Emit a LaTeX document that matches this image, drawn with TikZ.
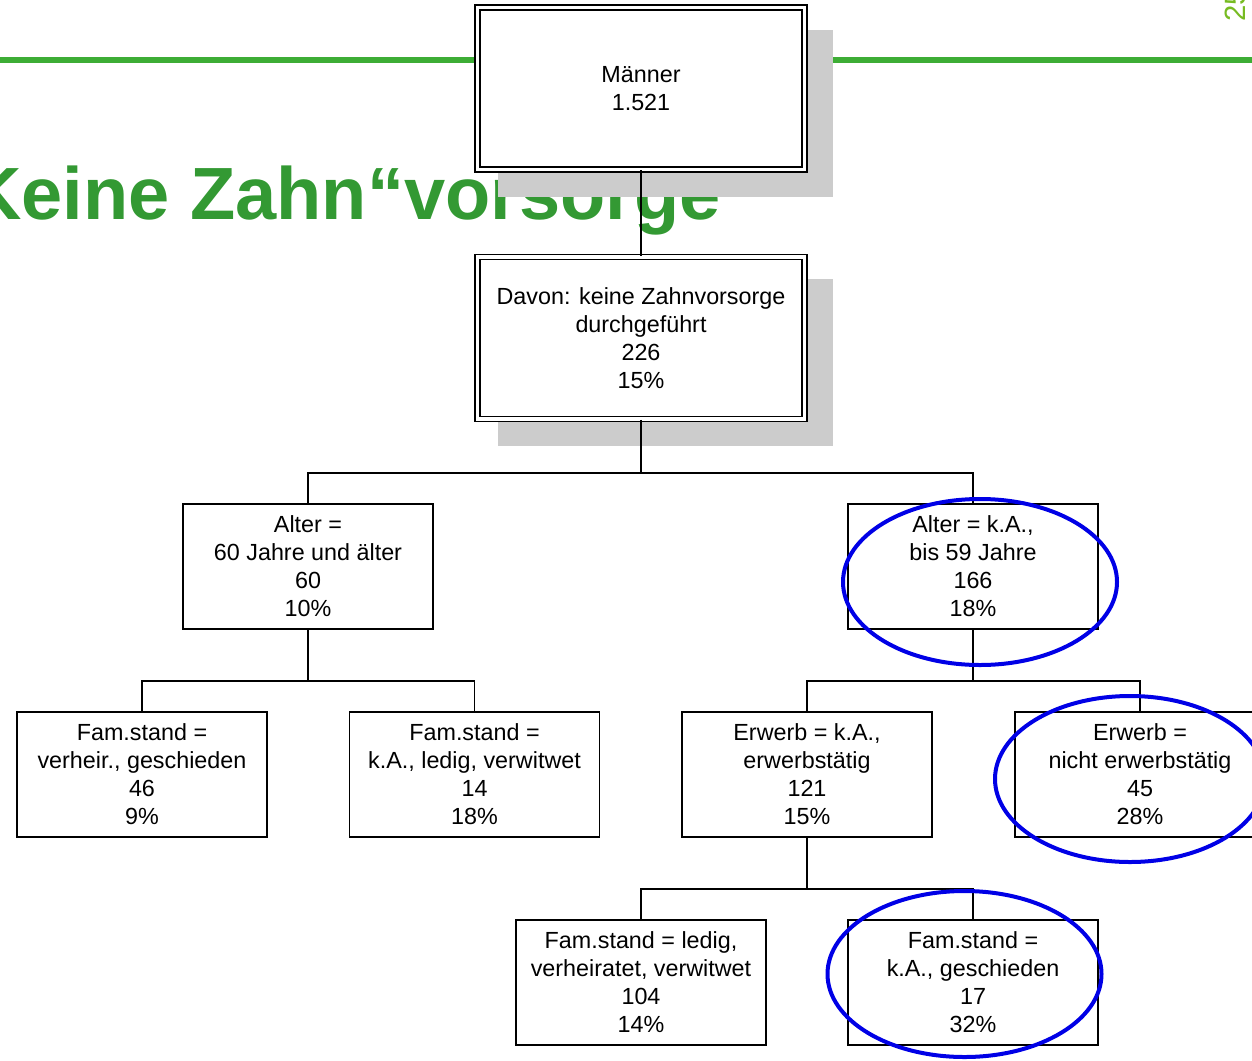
\documentclass[tikz,border=0pt]{standalone}
\usepackage{fontspec}
\setmainfont{Liberation Sans}
\definecolor{shadowgray}{HTML}{CCCCCC}
\definecolor{ringblue}{HTML}{0000E6}
\definecolor{titlegreen}{HTML}{339933}
\definecolor{linegreen}{HTML}{3DAD35}
\definecolor{pagegreen}{HTML}{77BB22}
\begin{document}
\begin{tikzpicture}[x=0.75pt,y=-0.75pt,
  box/.style={draw, line width=1.3pt, fill=white, minimum width=187.5pt, minimum height=93.75pt,
    inner sep=0pt, align=center, font=\fontsize{17.5}{21}\selectfont},
  dbox/.style={box, double, double distance=2.5pt, line width=1.3pt,
    minimum width=245.25pt, minimum height=121.5pt},
  conn/.style={line width=1.3pt},
  shade/.style={fill=shadowgray},
  ring/.style={draw=ringblue, line width=3pt}]
\path[use as bounding box] (0,0) rectangle (1252,1060);
\clip (0,0) rectangle (1252,1060);
% background
\draw[linegreen, line width=4.5pt] (0,60) -- (1252,60);
\node[anchor=base west, text=titlegreen, inner sep=0pt,
  font=\fontsize{55.5}{60}\selectfont\bfseries] (title) at (-32,219) {Keine Zahn“vorsorge};
\node[anchor=base west, rotate=90, text=pagegreen, inner sep=0pt,
  font=\fontsize{22}{24}\selectfont] (page) at (1245,22) {25};
% shadows
\fill[shade] (498,30) rectangle (833,197);
\fill[shade] (498,279) rectangle (833,446);
% nodes
\node[dbox] (m) at (641,88.5) {Männer\\1.521};
\node[dbox] (d) at (641,338) {Davon: keine Zahnvorsorge\\durchgeführt\\226\\15\%};
\node[box] (a60) at (308,566.5) {Alter =\\60 Jahre und älter\\60\\10\%};
\node[box] (aka) at (973,566.5) {Alter = k.A.,\\bis 59 Jahre\\166\\18\%};
\node[box] (f1) at (142,774.5) {Fam.stand =\\verheir., geschieden\\46\\9\%};
\node[box] (f2) at (474.5,774.5) {Fam.stand =\\k.A., ledig, verwitwet\\14\\18\%};
\node[box] (e1) at (807,774.5) {Erwerb = k.A.,\\erwerbstätig\\121\\15\%};
\node[box] (e2) at (1140,774.5) {Erwerb =\\nicht erwerbstätig\\45\\28\%};
\node[box] (g1) at (641,982.5) {Fam.stand = ledig,\\verheiratet, verwitwet\\104\\14\%};
\node[box] (g2) at (973,982.5) {Fam.stand =\\k.A., geschieden\\17\\32\%};
% connectors
\draw[conn] (m.south) -- (d.north);
\draw[conn] (d.south) -- (d.south |- 0,473) coordinate (j1) -| (a60.north);
\draw[conn] (j1) -| (aka.north);
\draw[conn] (a60.south) -- (a60.south |- 0,681) coordinate (j2) -| (f1.north);
\draw[conn] (j2) -| (f2.north);
\draw[conn] (aka.south) -- (aka.south |- 0,681) coordinate (j3) -| (e1.north);
\draw[conn] (j3) -| (e2.north);
\draw[conn] (e1.south) -- (e1.south |- 0,889) coordinate (j4) -| (g1.north);
\draw[conn] (j4) -| (g2.north);
% highlight rings
\draw[ring] (980,582) ellipse [x radius=137, y radius=83];
\draw[ring] (1130,779) ellipse [x radius=135, y radius=83];
\draw[ring] (964.5,974) ellipse [x radius=137, y radius=83];
\end{tikzpicture}
\end{document}
